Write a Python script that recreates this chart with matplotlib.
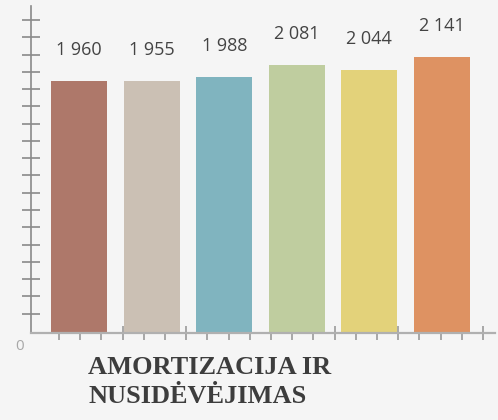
import numpy as np
import matplotlib
matplotlib.use("Agg")
import matplotlib.pyplot as plt

# data
values = [1960, 1955, 1988, 2081, 2044, 2141]
labels = ["1 960", "1 955", "1 988", "2 081", "2 044", "2 141"]
colors = ["#ae786a", "#cbc0b4", "#80b4bf", "#bfcd9f", "#e3d27a", "#de9262"]
title = "AMORTIZACIJA IR\nNUSIDĖVĖJIMAS"

BG = "#f5f5f5"

fig = plt.figure(figsize=(4.98, 4.2), dpi=100, facecolor=BG)
ax = fig.add_axes([30.5 / 498, (420 - 333) / 420, (495 - 30.5) / 498, (333 - 6) / 420])
ax.set_facecolor(BG)

x = np.arange(len(values))
ax.bar(x, values, width=0.77, color=colors, zorder=2)

ax.set_xlim(-0.668, 5.73)
ax.set_ylim(0, 2539)

for xi, v, lab in zip(x, values, labels):
    ax.annotate(lab, (xi, v), xytext=(0, 22.3), textcoords="offset points",
                ha="center", va="center", fontsize=13, color="#444444",
                family="Open Sans")

# spines
for s in ["top", "right"]:
    ax.spines[s].set_visible(False)
ax.spines["left"].set_color("#8a8a8a")
ax.spines["left"].set_linewidth(1.2)
ax.spines["bottom"].set_color("#b0b0b0")
ax.spines["bottom"].set_linewidth(1.6)

# unlabeled decorative ticks
ax.set_yticks(151 + 134 * np.arange(18))
ax.set_yticklabels([])
ax.tick_params(axis="y", direction="inout", length=13, width=1.2, color="#8a8a8a")
ax.set_xticks(-0.275 + 0.292 * np.arange(21))
ax.set_xticklabels([])
ax.tick_params(axis="x", direction="inout", length=10, width=1.2, color="#9a9a9a")

fig.text(20 / 498, 1 - 346 / 420, "0", ha="center", va="center",
         fontsize=11, color="#a8a8a8", family="Open Sans")

fig.text(88 / 498, 1 - 356 / 420, title, ha="left", va="top",
         fontsize=19, fontweight="bold", color="#3d3d3d",
         family="Liberation Serif", linespacing=1.35)

fig.savefig("out.png", dpi=100, facecolor=BG)
